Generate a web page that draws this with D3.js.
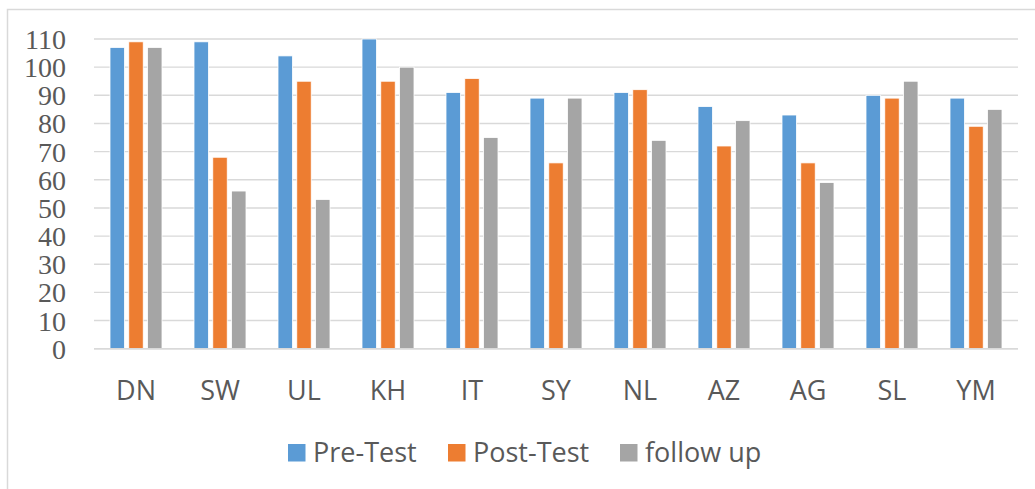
<!DOCTYPE html>
<html>
<head>
<meta charset="utf-8">
<script src="https://cdn.jsdelivr.net/npm/d3@7"></script>
<style>
  html, body { margin: 0; padding: 0; background: #fff; }
  svg { display: block; }
</style>
</head>
<body>
<svg id="chart" width="1035" height="489"></svg>
<script>
const categories = ["DN", "SW", "UL", "KH", "IT", "SY", "NL", "AZ", "AG", "SL", "YM"];
const seriesNames = ["Pre-Test", "Post-Test", "follow up"];
const preTest  = [107, 109, 104, 110, 91, 89, 91, 86, 83, 90, 89];
const postTest = [109, 68, 95, 95, 96, 66, 92, 72, 66, 89, 79];
const followUp = [107, 56, 53, 100, 75, 89, 74, 81, 59, 95, 85];
const yTicks = [0, 10, 20, 30, 40, 50, 60, 70, 80, 90, 100, 110];
const colors = ["#5b9bd5", "#ed7d31", "#a5a5a5"];

(function () {
const seriesValues = [preTest, postTest, followUp];
const data = categories.map((c, i) => ({
  cat: c,
  vals: seriesNames.map((s, j) => ({ key: s, value: seriesValues[j][i], idx: j }))
}));

const svg = d3.select("#chart");

// outer border
svg.append("rect")
  .attr("x", 7.5).attr("y", 9.5)
  .attr("width", 1040).attr("height", 500)
  .attr("fill", "none").attr("stroke", "#d9d9d9").attr("stroke-width", 1.5);

const pLeft = 94, pRight = 1018, pTop = 39, pBottom = 348.7;

const y = d3.scaleLinear().domain([0, 110]).range([pBottom, pTop]);
const x0 = d3.scaleBand().domain(categories).range([pLeft, pRight]).padding(0);
const groupW = 52;
const x1 = d3.scaleBand().domain(seriesNames).range([0, groupW]).paddingInner(0.23).paddingOuter(0);

// gridlines
svg.append("g").selectAll("line").data(yTicks).join("line")
  .attr("x1", pLeft).attr("x2", pRight)
  .attr("y1", d => y(d)).attr("y2", d => y(d))
  .attr("stroke", "#d9d9d9").attr("stroke-width", 1.4);

// y axis labels
const yAxis = d3.axisLeft(y).tickValues(yTicks).tickSize(0).tickPadding(0);
const ya = svg.append("g").attr("transform", "translate(66,0)").call(yAxis);
ya.select(".domain").remove();
ya.selectAll("text")
  .attr("font-family", "'Liberation Serif', 'Times New Roman', serif")
  .attr("font-size", 28)
  .attr("fill", "#595959")
  .attr("dy", "0.34em");

// bars
const groups = svg.append("g").selectAll("g").data(data).join("g")
  .attr("transform", d => `translate(${x0(d.cat) + (x0.bandwidth() - groupW) / 2},0)`);
groups.selectAll("rect").data(d => d.vals).join("rect")
  .attr("x", d => x1(d.key))
  .attr("width", x1.bandwidth())
  .attr("y", d => y(d.value))
  .attr("height", d => pBottom - y(d.value))
  .attr("fill", d => colors[d.idx])
  .attr("stroke", "#ffffff").attr("stroke-width", 0.8);

// baseline
svg.append("line")
  .attr("x1", pLeft).attr("x2", pRight)
  .attr("y1", pBottom).attr("y2", pBottom)
  .attr("stroke", "#d9d9d9").attr("stroke-width", 1.4);

// x axis labels
const xAxis = d3.axisBottom(x0).tickSize(0).tickPadding(0);
const xa = svg.append("g").attr("transform", `translate(0,${pBottom})`).call(xAxis);
xa.select(".domain").remove();
xa.selectAll("text")
  .attr("font-family", "'Open Sans', sans-serif")
  .attr("font-size", 27)
  .attr("fill", "#595959")
  .attr("y", 0)
  .attr("dy", 51.5);

// legend
const legendX = [288, 448, 620];
const lg = svg.append("g").selectAll("g").data(seriesNames).join("g")
  .attr("transform", (d, i) => `translate(${legendX[i]},444)`);
lg.append("rect").attr("width", 17.5).attr("height", 17.5)
  .attr("fill", (d, i) => colors[i]);
lg.append("text")
  .attr("x", 25).attr("y", 17.8)
  .attr("font-family", "'Open Sans', sans-serif")
  .attr("font-size", 27)
  .attr("fill", "#595959")
  .text(d => d);
})();
</script>
</body>
</html>
